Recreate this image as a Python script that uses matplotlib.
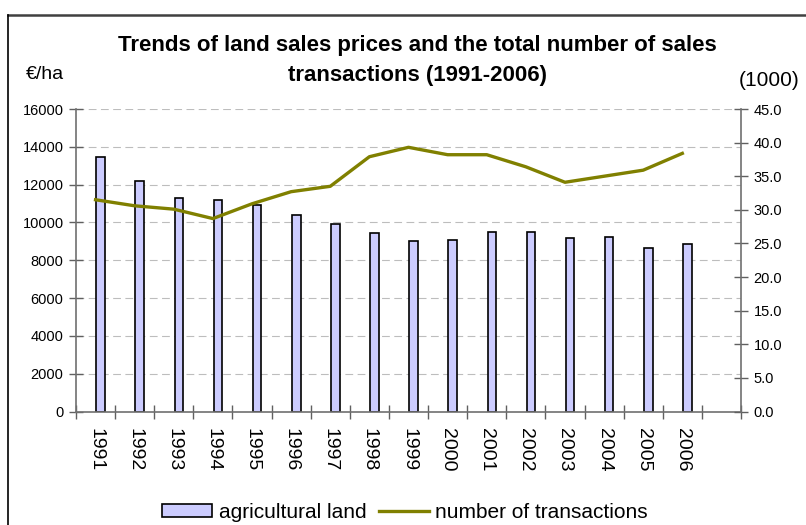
import numpy as np
import matplotlib.pyplot as plt
from matplotlib.lines import Line2D
from matplotlib.patches import Patch

years = ['1991', '1992', '1993', '1994', '1995', '1996', '1997', '1998',
         '1999', '2000', '2001', '2002', '2003', '2004', '2005', '2006']
# price of agricultural land, EUR/ha
land_price = [13450, 12200, 11300, 11200, 10900, 10400, 9900, 9450,
              9000, 9050, 9500, 9500, 9200, 9250, 8650, 8850]
# number of sales transactions, thousands
transactions = [31.5, 30.6, 30.1, 28.7, 30.9, 32.7, 33.5, 37.9,
                39.3, 38.2, 38.2, 36.4, 34.1, 35.0, 35.9, 38.4]
left_ticks = [0, 2000, 4000, 6000, 8000, 10000, 12000, 14000, 16000]
right_ticks = [0, 5, 10, 15, 20, 25, 30, 35, 40, 45]

plt.rcParams['font.family'] = ['Liberation Sans', 'DejaVu Sans']

W, H = 806, 525
fig = plt.figure(figsize=(W / 100, H / 100), dpi=100)

# plot area in pixels
x0, x1, ytop, ybot = 76, 741, 109, 411.5
ax = fig.add_axes([x0 / W, 1 - ybot / H, (x1 - x0) / W, (ybot - ytop) / H])

idx = np.arange(len(years))
ax.bar(idx + 0.13, land_price, width=0.22, color='#ccccff',
       edgecolor='black', linewidth=1.2, zorder=2)
ax.set_xlim(-0.5, 16.5)
ax.set_ylim(0, 16000)
ax.set_yticks(left_ticks)
ax.set_yticklabels([str(v) for v in left_ticks], fontsize=10.5)
ax.set_axisbelow(True)
ax.yaxis.grid(True, color='#bdbdbd', linestyle=(0, (7, 4)), linewidth=0.8)

ax.set_xticks(idx)
ax.set_xticklabels(years, rotation=-90, fontsize=14)
ax.set_xticks(np.arange(-0.5, 17, 1), minor=True)
ax.tick_params(axis='x', which='major', length=0, pad=12)
ax.tick_params(axis='x', which='minor', direction='inout', length=10,
               color='#606060', width=1)
ax.tick_params(axis='y', direction='inout', length=10, color='#606060',
               width=1, pad=4)

for s in ['top', 'right']:
    ax.spines[s].set_visible(False)
for s in ['left', 'bottom']:
    ax.spines[s].set_color('#707070')
    ax.spines[s].set_linewidth(1.2)

ax2 = ax.twinx()
ax2.plot(idx, transactions, color='#808000', linewidth=2.4, zorder=3)
ax2.set_ylim(0, 45)
ax2.set_yticks(right_ticks)
ax2.set_yticklabels(['%.1f' % v for v in right_ticks], fontsize=10.5)
ax2.tick_params(axis='y', direction='inout', length=10, color='#606060',
                width=1, pad=4)
for s in ['top', 'left', 'bottom']:
    ax2.spines[s].set_visible(False)
ax2.spines['right'].set_color('#707070')
ax2.spines['right'].set_linewidth(1.2)

# title and axis unit labels
fig.text(417 / W, 1 - 45 / H, 'Trends of land sales prices and the total number of sales',
         ha='center', va='center', fontsize=16, fontweight='bold')
fig.text(417 / W, 1 - 76 / H, 'transactions (1991-2006)',
         ha='center', va='center', fontsize=16, fontweight='bold')
fig.text(45 / W, 1 - 75 / H, '€/ha', ha='center', va='center', fontsize=14)
fig.text(769 / W, 1 - 80 / H, '(1000)', ha='center', va='center', fontsize=15)

# frame of the chart area
fig.add_artist(Line2D([8 / W, 1.0], [1 - 15 / H, 1 - 15 / H],
                      color='#404040', linewidth=1.8, transform=fig.transFigure))
fig.add_artist(Line2D([8 / W, 8 / W], [1 - 15 / H, 0.0],
                      color='black', linewidth=1.2, transform=fig.transFigure))

handles = [Patch(facecolor='#ccccff', edgecolor='black', linewidth=1.2),
           Line2D([0], [0], color='#808000', linewidth=2.4)]
fig.legend(handles, ['agricultural land', 'number of transactions'],
           loc='center', bbox_to_anchor=(405 / W, 1 - 512 / H),
           ncol=2, frameon=False, fontsize=15, handlelength=2.4,
           handleheight=0.6, handletextpad=0.3, columnspacing=0.6)

fig.savefig('out.png', dpi=100)
